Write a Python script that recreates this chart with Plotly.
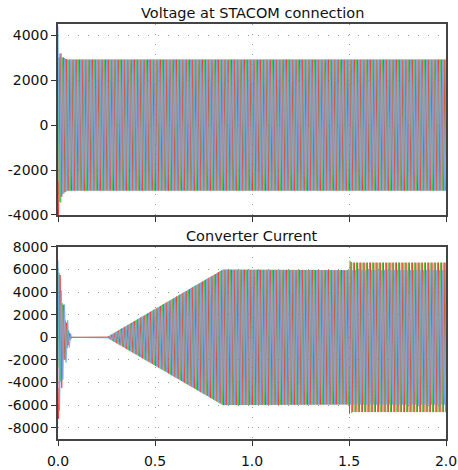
import numpy as np
import plotly.graph_objects as go
from plotly.subplots import make_subplots

# ---- data ----
FREQ_HZ = 60.0
PHASE_NAMES = ["Phase B", "Phase A", "Phase C"]
PHASE_COLORS = ["#22c822", "#ff2020", "#4f9dff"]
PHASE_SHIFT_DEG = [-120.0, 120.0, 0.0]

# Voltage envelope (peak amplitude) knots, shared by the three phases
V_ENV_T = [0.0, 0.004, 0.012, 0.03, 0.05, 2.0]
V_ENV_A = [4400, 3600, 3250, 3000, 2920, 2920]
V_OFFSET = [-900, -300, 0]

# Current envelope knots, one amplitude list per phase
I_ENV_T = [0.0, 0.01, 0.03, 0.05, 0.07, 0.25, 0.85, 1.5, 1.5004, 1.504, 1.52, 2.0]
I_ENV_GREEN = [6500, 4500, 2000, 800, 0, 0, 6000, 5950, 7400, 6800, 6620, 6620]
I_ENV_RED = [6500, 6000, 2500, 800, 0, 0, 6000, 5950, 6900, 6700, 6620, 6620]
I_ENV_BLUE = [8800, 5000, 3200, 1500, 0, 0, 6000, 5950, 5950, 5950, 5950, 5950]
I_OFFSET = [600, -1200, -2000]

X_TICKS = [0.0, 0.5, 1.0, 1.5, 2.0]
X_TICK_LABELS = ["0.0", "0.5", "1.0", "1.5", "2.0"]
V_TICKS = [-4000, -2000, 0, 2000, 4000]
I_TICKS = [-8000, -6000, -4000, -2000, 0, 2000, 4000, 6000, 8000]

TITLES = ["Voltage at STACOM connection", "Converter Current"]

# ---- build waveforms ----
t = np.arange(0, 2.0 + 1e-9, 1.0 / (FREQ_HZ * 64))
w = 2 * np.pi * FREQ_HZ
v_env = np.interp(t, V_ENV_T, V_ENV_A)
i_envs = [np.interp(t, I_ENV_T, a) for a in (I_ENV_GREEN, I_ENV_RED, I_ENV_BLUE)]

fig = make_subplots(rows=2, cols=1, vertical_spacing=0.077)

for k in range(3):
    ph = np.deg2rad(PHASE_SHIFT_DEG[k])
    v = v_env * np.cos(w * t + ph) + V_OFFSET[k] * np.exp(-t / 0.01)
    i = i_envs[k] * np.cos(w * t + ph) + I_OFFSET[k] * np.exp(-t / 0.008)
    fig.add_trace(go.Scatter(x=t, y=v, mode="lines", name=PHASE_NAMES[k],
                             line=dict(color=PHASE_COLORS[k], width=0.7),
                             showlegend=False, hoverinfo="skip"), row=1, col=1)
    fig.add_trace(go.Scatter(x=t, y=i, mode="lines", name=PHASE_NAMES[k],
                             line=dict(color=PHASE_COLORS[k], width=0.7),
                             showlegend=False, hoverinfo="skip"), row=2, col=1)

tick_font = dict(family="DejaVu Sans", size=14, color="#111")
title_font = dict(family="DejaVu Sans", size=14.5, color="#111")
axis_common = dict(showline=True, linecolor="#444", linewidth=1.5, mirror=True,
                   showgrid=True, gridcolor="#9a9a9a", griddash="1px,9px", gridwidth=1,
                   zeroline=False, ticks="outside", ticklen=5, tickcolor="#333",
                   tickfont=tick_font, automargin=False)

fig.update_xaxes(range=[0, 2.0], tickvals=X_TICKS, ticktext=X_TICK_LABELS,
                 ticklabelstandoff=3, **axis_common)
fig.update_xaxes(showticklabels=False, row=1, col=1)
fig.update_yaxes(range=[-4000, 4500], tickvals=V_TICKS,
                 ticktext=[str(v) for v in V_TICKS], row=1, col=1, **axis_common)
fig.update_yaxes(range=[-9000, 8000], tickvals=I_TICKS,
                 ticktext=[str(v) for v in I_TICKS], row=2, col=1, **axis_common)

fig.update_layout(
    width=458, height=470,
    margin=dict(l=58, r=12, t=24, b=31),
    plot_bgcolor="white", paper_bgcolor="white",
    font=tick_font,
)
fig.layout.xaxis.domain = [0, 1]
fig.layout.yaxis.domain = [0.5398, 1.0]
fig.layout.yaxis2.domain = [0.0, 0.4627]

fig.add_annotation(text=TITLES[0], xref="paper", yref="paper", x=0.5, y=1.0,
                   yanchor="bottom", yshift=1, showarrow=False, font=title_font)
fig.add_annotation(text=TITLES[1], xref="paper", yref="paper", x=0.5, y=0.4627,
                   yanchor="bottom", yshift=1, showarrow=False, font=title_font)

fig.write_html("out.html")
